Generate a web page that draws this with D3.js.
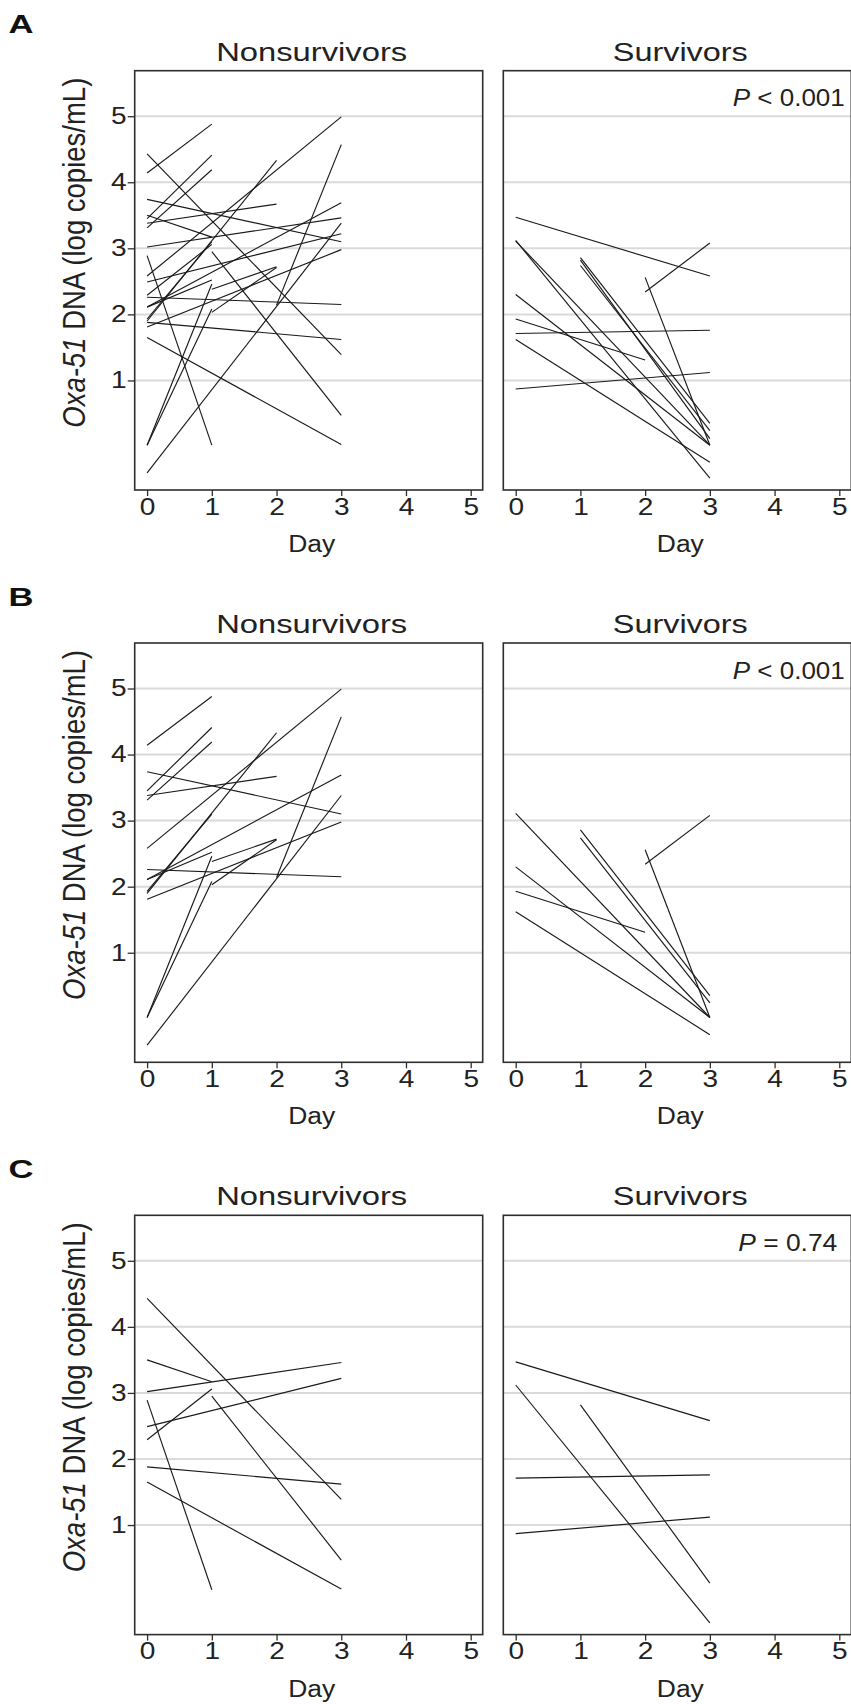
<!DOCTYPE html>
<html>
<head>
<meta charset="utf-8">
<script src="https://cdn.jsdelivr.net/npm/d3@7"></script>
<style>
  body { margin: 0; background: #fff; }
  svg { display: block; font-family: "Liberation Sans", Arial, sans-serif; }
</style>
</head>
<body>
<script>
// values: each patient is a list of [day, log copies/mL]
var nonsurvB = [
	[[0, 4.14], [1, 4.88]],
	[[0, 3.45], [1, 4.41]],
	[[0, 3.31], [1, 4.19]],
	[[0, 3.38], [2, 3.67]],
	[[0, 3.74], [3, 3.10]],
	[[0, 2.58], [3, 4.99]],
	[[0, 1.90], [2, 4.33]],
	[[0, 1.93], [1, 3.10]],
	[[0, 2.11], [3, 3.69]],
	[[0, 2.11], [1, 2.52]],
	[[0, 2.26], [3, 2.15]],
	[[0, 1.81], [3, 2.98]],
	[[0, 0.02], [1, 2.46]],
	[[0, 0.02], [1, 2.08]],
	[[1, 2.38], [2, 2.72]],
	[[1, 2.03], [2, 2.71]],
	[[0, -0.40], [3, 3.38]],
	[[2, 2.14], [3, 4.57]]
];
var nonsurvC = [
	[[0, 4.43], [3, 1.39]],
	[[0, 3.50], [1, 3.17]],
	[[0, 3.02], [3, 3.46]],
	[[0, 2.49], [3, 3.22]],
	[[0, 2.29], [1, 3.06]],
	[[0, 2.89], [1, 0.02]],
	[[1, 2.95], [3, 0.47]],
	[[0, 1.88], [3, 1.62]],
	[[0, 1.65], [3, 0.03]]
];
var survB = [
	[[0, 3.11], [3, 0.02]],
	[[1, 2.86], [3, 0.35]],
	[[1, 2.74], [3, 0.24]],
	[[2, 2.56], [3, 0.02]],
	[[2, 2.34], [3, 3.08]],
	[[0, 2.30], [3, 0.02]],
	[[0, 1.93], [2, 1.31]],
	[[0, 1.62], [3, -0.24]]
];
var survC = [
	[[0, 3.47], [3, 2.58]],
	[[0, 3.12], [3, -0.48]],
	[[1, 2.82], [3, 0.12]],
	[[0, 1.71], [3, 1.76]],
	[[0, 0.87], [3, 1.12]]
];
// panel A holds every patient, B and C the two subgroups
var nonsurvA = nonsurvB.concat(nonsurvC);
var survA = survB.concat(survC);

var panelLetters = ["A", "B", "C"];
var groupTitles = ["Nonsurvivors", "Survivors"];
var pLabels = ["< 0.001", "< 0.001", "= 0.74"];
var dayTicks = [0, 1, 2, 3, 4, 5];
var logTicks = [1, 2, 3, 4, 5];

var rows = [
	{letter: panelLetters[0], groups: [nonsurvA, survA], p: pLabels[0]},
	{letter: panelLetters[1], groups: [nonsurvB, survB], p: pLabels[1]},
	{letter: panelLetters[2], groups: [nonsurvC, survC], p: pLabels[2]}
];

var W = 851, H = 1704;
var panelW = 348, panelH = 419.3;
var panelLeft = [134.7, 503.3];
var firstTop = 70.7, rowStep = 572.3;
var stretch = 1.22;   // the scanned figure is wider than tall

var x = d3.scaleLinear().domain([0, 5]).range([12.4, 336]);
var y = d3.scaleLinear().domain([0, 5]).range([375.8, 45.5]);
var line = d3.line().x(function(d){ return x(d[0]); }).y(function(d){ return y(d[1]); });

var svg = d3.select("body").append("svg")
	.attr("width", W)
	.attr("height", H);

rows.forEach(function(row, ri){
	var top = firstTop + ri * rowStep;

	svg.append("text")
		.attr("x", 8.5)
		.attr("y", top - 37.5)
		.attr("textLength", 25)
		.attr("lengthAdjust", "spacingAndGlyphs")
		.style("font-size", "26px")
		.style("font-weight", "bold")
		.attr("fill", "#111")
		.text(row.letter);

	// y axis title, italic gene name
	var yl = svg.append("text")
		.attr("transform", "translate(85," + (top + 182) + ") scale(1.22,1) rotate(-90)")
		.attr("text-anchor", "middle")
		.attr("textLength", 350)
		.attr("lengthAdjust", "spacingAndGlyphs")
		.style("font-size", "26px")
		.attr("fill", "#222");
	yl.append("tspan").style("font-style", "italic").text("Oxa-51");
	yl.append("tspan").text(" DNA (log copies/mL)");

	row.groups.forEach(function(lines, gi){
		var g = svg.append("g")
			.attr("transform", "translate(" + panelLeft[gi] + "," + top + ")");

		g.append("text")
			.attr("x", panelW / 2 + 3)
			.attr("y", -10)
			.attr("text-anchor", "middle")
			.attr("textLength", gi == 0 ? 191 : 135)
			.attr("lengthAdjust", "spacingAndGlyphs")
			.style("font-size", "25px")
			.attr("fill", "#222")
			.text(groupTitles[gi]);

		g.selectAll(".grid")
			.data(logTicks)
			.enter().append("line")
			.attr("class", "grid")
			.attr("x1", 0).attr("x2", panelW)
			.attr("y1", function(d){ return y(d); })
			.attr("y2", function(d){ return y(d); })
			.attr("stroke", "#dadada")
			.attr("stroke-width", 2);

		g.selectAll(".patient")
			.data(lines)
			.enter().append("path")
			.attr("class", "patient")
			.attr("d", line)
			.attr("fill", "none")
			.attr("stroke", "#1a1a1a")
			.attr("stroke-width", 1.15);

		g.append("rect")
			.attr("x", 0).attr("y", 0)
			.attr("width", panelW).attr("height", panelH)
			.attr("fill", "none")
			.attr("stroke", "#2e2e2e")
			.attr("stroke-width", 1.6);

		var xa = g.append("g")
			.attr("transform", "translate(0," + panelH + ")")
			.call(d3.axisBottom(x).tickValues(dayTicks).tickFormat(d3.format("d"))
				.tickSize(6).tickPadding(2.5));
		xa.select(".domain").remove();
		xa.selectAll("line").attr("stroke", "#2e2e2e").attr("stroke-width", 1.3);
		xa.selectAll("text")
			.attr("transform", "scale(" + stretch + ",1)")
			.attr("fill", "#222")
			.style("font-size", "23px")
			.style("font-family", "\"Liberation Sans\", Arial, sans-serif");

		if (gi == 0) {
			var ya = g.append("g")
				.call(d3.axisLeft(y).tickValues(logTicks).tickFormat(d3.format("d"))
					.tickSize(7).tickPadding(1));
			ya.select(".domain").remove();
			ya.selectAll("line").attr("stroke", "#2e2e2e").attr("stroke-width", 1.3);
			ya.selectAll("text")
				.attr("x", -8 / stretch)
				.attr("transform", "scale(" + stretch + ",1)")
				.attr("fill", "#222")
				.style("font-size", "23px")
				.style("font-family", "\"Liberation Sans\", Arial, sans-serif");
		}

		g.append("text")
			.attr("x", panelW / 2 + 3)
			.attr("y", 481.3)
			.attr("text-anchor", "middle")
			.attr("textLength", 47)
			.attr("lengthAdjust", "spacingAndGlyphs")
			.style("font-size", "23px")
			.attr("fill", "#222")
			.text("Day");

		if (gi == 1) {
			var pt = g.append("text")
				.attr("x", ri == 2 ? 235 : 229.5)
				.attr("y", 35.5)
				.attr("textLength", ri == 2 ? 99 : 112)
				.attr("lengthAdjust", "spacingAndGlyphs")
				.style("font-size", "23px")
				.attr("fill", "#222");
			pt.append("tspan").style("font-style", "italic").text("P");
			pt.append("tspan").text(" " + row.p);
		}
	});
});
</script>
</body>
</html>
